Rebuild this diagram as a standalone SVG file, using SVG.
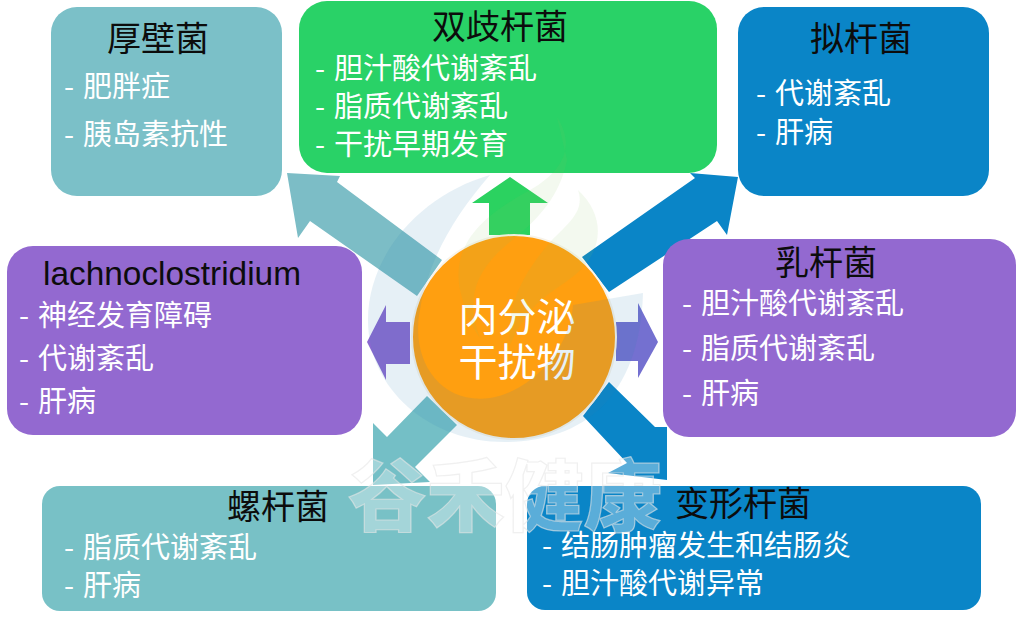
<svg xmlns="http://www.w3.org/2000/svg" width="1024" height="622" viewBox="0 0 1024 622">
<style>
text{font-family:"Noto Sans CJK SC","Noto Sans",sans-serif}
.t{font-size:34px;fill:#0c0c0c;text-anchor:middle}
.l{font-size:29px;fill:#fff}
.c{font-size:39px;fill:#fff;text-anchor:middle}
.teal{fill:#7bc0c8}.teal2{fill:#78c1c6}.green{fill:#29d267}.blue{fill:#0a85c7}.purple{fill:#9369d0}
</style>
<rect width="1024" height="622" fill="#fff"/>
<g id="connectors">
<polygon points="442,260 337,182 340,176 287,173 298,238 310,221 417,296" fill="#7cbdc6"/>
<polygon points="510,177 472,203 489,203 489,235 530,235 530,203 548,203" fill="#2bd260"/>
<polygon points="582,257 695,178 690,173 738,177 727,235 717,221 609,292" fill="#0a85c7"/>
<polygon points="410,322 386,322 386,305 367,342 386,380 386,364 410,364" fill="#8a69d0"/>
<polygon points="616,322 638,322 638,303 658,342 638,378 638,361 616,361" fill="#7470d0"/>
<polygon points="457,425 427,396 387,437 373,423 373,485 430,482 415,467" fill="#74bfc6"/>
<polygon points="609,382 583,416 627,463 608,473 667,480 667,427 655,427" fill="#0a85c7"/>
</g>
<g id="n1"><rect class="teal" x="51" y="7" width="231" height="189" rx="26"/>
<text class="t" x="158" y="51">厚壁菌</text>
<text class="l" x="64" y="97">- <tspan dx="2.5">肥胖症</tspan></text>
<text class="l" x="64" y="145">- <tspan dx="2.5">胰岛素抗性</tspan></text></g>
<g id="n2"><rect class="green" x="299" y="1" width="418" height="172" rx="28"/>
<text class="t" x="500" y="39">双歧杆菌</text>
<text class="l" x="315" y="79">- <tspan dx="2.5">胆汁酸代谢紊乱</tspan></text>
<text class="l" x="315" y="117">- <tspan dx="2.5">脂质代谢紊乱</tspan></text>
<text class="l" x="315" y="155">- <tspan dx="2.5">干扰早期发育</tspan></text></g>
<g id="n3"><rect class="blue" x="738" y="7" width="251" height="189" rx="26"/>
<text class="t" x="861" y="51">拟杆菌</text>
<text class="l" x="756" y="104">- <tspan dx="2.5">代谢紊乱</tspan></text>
<text class="l" x="756" y="143">- <tspan dx="2.5">肝病</tspan></text></g>
<g id="n4"><rect class="purple" x="7" y="246" width="355" height="189" rx="26"/>
<text class="t" x="172" y="285" style="font-family:'Liberation Sans',sans-serif;font-size:33.4px">lachnoclostridium</text>
<text class="l" x="19" y="326">- <tspan dx="2.5">神经发育障碍</tspan></text>
<text class="l" x="19" y="369">- <tspan dx="2.5">代谢紊乱</tspan></text>
<text class="l" x="19" y="412">- <tspan dx="2.5">肝病</tspan></text></g>
<g id="n5"><rect class="purple" x="663" y="239" width="353" height="198" rx="26"/>
<text class="t" x="826" y="275">乳杆菌</text>
<text class="l" x="682" y="314">- <tspan dx="2.5">胆汁酸代谢紊乱</tspan></text>
<text class="l" x="682" y="359">- <tspan dx="2.5">脂质代谢紊乱</tspan></text>
<text class="l" x="682" y="404">- <tspan dx="2.5">肝病</tspan></text></g>
<g id="n6"><rect class="teal2" x="42" y="486" width="454" height="125" rx="18"/>
<text class="t" x="278" y="519">螺杆菌</text>
<text class="l" x="64" y="558">- <tspan dx="2.5">脂质代谢紊乱</tspan></text>
<text class="l" x="64" y="596">- <tspan dx="2.5">肝病</tspan></text></g>
<g id="n7"><rect class="blue" x="527" y="486" width="454" height="124" rx="18"/>
<text class="t" x="743" y="516">变形杆菌</text>
<text class="l" x="542" y="556">- <tspan dx="2.5">结肠肿瘤发生和结肠炎</tspan></text>
<text class="l" x="542" y="594">- <tspan dx="2.5">胆汁酸代谢异常</tspan></text></g>
<g id="n0"><circle cx="514" cy="337" r="102" fill="#ff9f10" stroke="#f7f3ea" stroke-width="2"/>
<text class="c" x="517" y="331">内分泌</text>
<text class="c" x="517" y="376">干扰物</text></g>
<g id="watermark">
<path d="M490 175C420 195 368 255 368 320C368 390 430 442 505 442C580 442 640 400 643 293L573 305C570 350 530 392 490 398C440 405 410 360 420 310C428 260 455 215 490 175Z" fill="#2f86b8" opacity=".12"/>
<path d="M557 137C575 165 565 190 530 210C490 232 450 260 460 310C465 330 470 345 480 358C465 320 475 290 510 262C540 238 560 215 567 180Z" fill="#8cc060" opacity=".1" transform="translate(0,-20)"/>
<path d="M578 190C605 215 605 250 575 275C550 295 530 300 510 345C505 300 530 265 552 240C570 222 585 210 578 190Z" fill="#8cc060" opacity=".1"/>
<text x="505" y="525" text-anchor="middle" font-size="78" font-weight="900" fill="#fff" fill-opacity=".33" stroke="#e6e6e6" stroke-opacity=".6" stroke-width="1.2" textLength="314" lengthAdjust="spacingAndGlyphs">谷禾健康</text>
</g>
</svg>
